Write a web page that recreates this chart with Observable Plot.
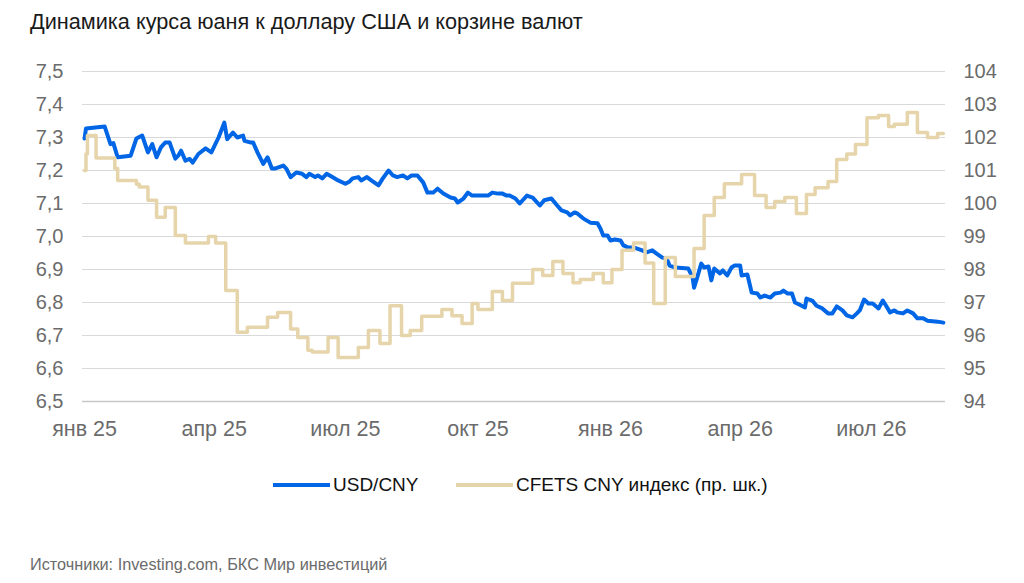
<!DOCTYPE html>
<html>
<head>
<meta charset="utf-8">
<script src="https://cdn.jsdelivr.net/npm/d3@7"></script>
<script src="https://cdn.jsdelivr.net/npm/@observablehq/plot@0.6"></script>
<style>
  html, body { margin: 0; padding: 0; background: #fff; }
  #wrap { position: relative; width: 1024px; height: 583px; font-family: "Liberation Sans", Arial, sans-serif; overflow: hidden; }
  #title { position: absolute; left: 30px; top: 9px; font-size: 21.7px; color: #1a1a1a; white-space: nowrap; }
  #caption { position: absolute; left: 30px; top: 555px; font-size: 16.3px; color: #6b6b6b; white-space: nowrap; }
  .sw { position: absolute; height: 4px; }
  .lt { position: absolute; font-size: 19px; color: #111; white-space: nowrap; }
  #chart { position: absolute; left: 0; top: 0; }
</style>
</head>
<body>
<div id="wrap">
  <div id="chart"></div>
  <div id="title">Динамика курса юаня к доллару США и корзине валют</div>
  <div class="sw" style="left:273px; top:483px; width:57px; background:#0066e6;"></div>
  <div class="lt" style="left:333px; top:474px;">USD/CNY</div>
  <div class="sw" style="left:456px; top:483px; width:57px; background:#e6d5aa;"></div>
  <div class="lt" style="left:516px; top:474px;">CFETS CNY индекс (пр. шк.)</div>
  <div id="caption">Источники: Investing.com, БКС Мир инвестиций</div>
</div>
<script>
const usdDates = ["2025-01-01","2025-01-02","2025-01-15","2025-01-19","2025-01-21","2025-01-24","2025-02-02","2025-02-06","2025-02-10","2025-02-14","2025-02-17","2025-02-20","2025-02-23","2025-02-26","2025-03-01","2025-03-05","2025-03-07","2025-03-09","2025-03-12","2025-03-15","2025-03-17","2025-03-21","2025-03-26","2025-03-30","2025-04-04","2025-04-08","2025-04-10","2025-04-14","2025-04-17","2025-04-21","2025-04-22","2025-04-26","2025-04-28","2025-05-01","2025-05-05","2025-05-08","2025-05-11","2025-05-13","2025-05-19","2025-05-21","2025-05-24","2025-05-28","2025-06-01","2025-06-04","2025-06-06","2025-06-10","2025-06-12","2025-06-15","2025-06-18","2025-06-22","2025-06-26","2025-07-01","2025-07-04","2025-07-06","2025-07-10","2025-07-12","2025-07-16","2025-07-19","2025-07-21","2025-07-24","2025-07-27","2025-07-31","2025-08-03","2025-08-06","2025-08-10","2025-08-13","2025-08-16","2025-08-20","2025-08-24","2025-08-27","2025-08-31","2025-09-03","2025-09-07","2025-09-12","2025-09-15","2025-09-17","2025-09-21","2025-09-24","2025-09-27","2025-09-30","2025-10-08","2025-10-11","2025-10-15","2025-10-18","2025-10-21","2025-10-23","2025-10-27","2025-10-30","2025-11-04","2025-11-08","2025-11-13","2025-11-16","2025-11-21","2025-11-25","2025-11-28","2025-12-02","2025-12-04","2025-12-07","2025-12-09","2025-12-13","2025-12-18","2025-12-23","2025-12-25","2025-12-27","2025-12-30","2026-01-01","2026-01-04","2026-01-08","2026-01-10","2026-01-13","2026-01-17","2026-01-19","2026-01-23","2026-01-26","2026-01-30","2026-02-02","2026-02-06","2026-02-09","2026-02-11","2026-02-15","2026-02-24","2026-02-27","2026-02-28","2026-03-02","2026-03-05","2026-03-07","2026-03-10","2026-03-12","2026-03-14","2026-03-18","2026-03-20","2026-03-23","2026-03-26","2026-03-28","2026-04-01","2026-04-02","2026-04-06","2026-04-09","2026-04-13","2026-04-15","2026-04-18","2026-04-22","2026-04-25","2026-04-29","2026-05-01","2026-05-04","2026-05-07","2026-05-09","2026-05-12","2026-05-16","2026-05-17","2026-05-21","2026-05-24","2026-05-28","2026-06-01","2026-06-04","2026-06-07","2026-06-11","2026-06-14","2026-06-18","2026-06-21","2026-06-23","2026-06-26","2026-06-29","2026-07-02","2026-07-06","2026-07-09","2026-07-12","2026-07-14","2026-07-17","2026-07-19","2026-07-23","2026-07-26","2026-07-30","2026-08-02","2026-08-06","2026-08-09","2026-08-16","2026-08-20"];
const usdValues = [7.297,7.327,7.333,7.28,7.283,7.24,7.245,7.297,7.306,7.255,7.28,7.24,7.27,7.285,7.285,7.236,7.245,7.26,7.23,7.235,7.224,7.25,7.267,7.255,7.30,7.345,7.295,7.315,7.30,7.306,7.29,7.285,7.285,7.255,7.22,7.24,7.206,7.206,7.215,7.206,7.18,7.194,7.19,7.18,7.19,7.18,7.185,7.176,7.19,7.18,7.17,7.16,7.167,7.176,7.18,7.17,7.18,7.17,7.164,7.155,7.176,7.20,7.185,7.18,7.185,7.176,7.185,7.185,7.164,7.133,7.133,7.145,7.13,7.118,7.115,7.103,7.115,7.133,7.124,7.124,7.124,7.133,7.13,7.13,7.124,7.124,7.115,7.10,7.124,7.118,7.094,7.11,7.115,7.094,7.079,7.073,7.064,7.073,7.07,7.055,7.042,7.04,7.024,7.003,7.003,6.988,6.991,6.988,6.973,6.967,6.967,6.964,6.958,6.952,6.958,6.948,6.936,6.933,6.912,6.906,6.903,6.876,6.845,6.873,6.918,6.906,6.909,6.867,6.903,6.888,6.897,6.882,6.906,6.912,6.912,6.882,6.885,6.83,6.827,6.815,6.821,6.815,6.827,6.83,6.836,6.827,6.827,6.80,6.794,6.785,6.812,6.806,6.79,6.782,6.767,6.767,6.788,6.776,6.761,6.755,6.767,6.776,6.809,6.797,6.797,6.782,6.806,6.785,6.77,6.776,6.77,6.767,6.776,6.767,6.752,6.752,6.745,6.742,6.739];

const cfetsDates = ["2025-01-01","2025-01-02","2025-01-03","2025-01-09","2025-01-22","2025-01-24","2025-02-06","2025-02-08","2025-02-14","2025-02-20","2025-02-26","2025-03-05","2025-03-12","2025-03-28","2025-04-02","2025-04-09","2025-04-17","2025-04-24","2025-05-08","2025-05-15","2025-05-24","2025-05-29","2025-06-05","2025-06-08","2025-06-19","2025-06-26","2025-07-10","2025-07-17","2025-07-25","2025-08-01","2025-08-09","2025-08-15","2025-08-23","2025-09-06","2025-09-13","2025-09-20","2025-09-27","2025-10-01","2025-10-11","2025-10-18","2025-10-25","2025-11-08","2025-11-15","2025-11-22","2025-11-29","2025-12-06","2025-12-11","2025-12-20","2025-12-27","2026-01-02","2026-01-09","2026-01-17","2026-01-25","2026-01-31","2026-02-08","2026-02-15","2026-02-28","2026-03-07","2026-03-14","2026-03-21","2026-04-02","2026-04-11","2026-04-19","2026-04-25","2026-05-02","2026-05-10","2026-05-17","2026-05-23","2026-06-01","2026-06-07","2026-06-14","2026-06-20","2026-06-28","2026-07-06","2026-07-13","2026-07-17","2026-07-26","2026-08-02","2026-08-09","2026-08-16","2026-08-20"];
const cfetsValues = [101.0,101.5,102.06,101.38,101.06,100.7,100.58,100.5,100.1,99.58,99.88,99.03,98.8,99.0,98.8,97.36,96.1,96.25,96.55,96.7,96.2,95.94,95.55,95.5,95.94,95.33,95.64,96.15,95.76,96.9,96.0,96.15,96.58,96.79,96.6,96.36,96.97,96.79,97.33,97.06,97.58,98.0,97.82,98.24,97.88,97.6,97.7,97.88,97.6,98.0,98.58,98.8,98.2,96.97,98.36,97.79,98.64,99.64,100.18,100.6,100.88,100.24,99.88,100.06,100.18,99.7,100.27,100.48,100.67,101.33,101.5,101.79,102.6,102.67,102.33,102.4,102.76,102.15,102.0,102.12,102.12];

const leftTicks = [6.5, 6.6, 6.7, 6.8, 6.9, 7.0, 7.1, 7.2, 7.3, 7.4, 7.5];
const rightTicks = [94, 95, 96, 97, 98, 99, 100, 101, 102, 103, 104];
const xTickDates = ["2025-01-01","2025-04-01","2025-07-01","2025-10-01","2026-01-01","2026-04-01","2026-07-01"];
const xTickLabels = ["янв 25","апр 25","июл 25","окт 25","янв 26","апр 26","июл 26"];

const parse = d3.utcParse("%Y-%m-%d");
const usd = usdDates.map((d, i) => ({date: parse(d), value: usdValues[i]}));
const cfets = cfetsDates.map((d, i) => ({date: parse(d), value: cfetsValues[i]}));
const xTicks = xTickDates.map(parse);

// map right-axis values onto the left scale
const r0 = rightTicks[0], r1 = rightTicks[rightTicks.length - 1];
const l0 = leftTicks[0], l1 = leftTicks[leftTicks.length - 1];
const toLeft = v => l0 + (v - r0) * (l1 - l0) / (r1 - r0);

const fmtLeft = d => d.toFixed(1).replace(".", ",");
const fmtRight = d => {
  const i = leftTicks.findIndex(t => Math.abs(t - d) < 1e-9);
  return i >= 0 ? String(rightTicks[i]) : "";
};
const fmtX = d => {
  const i = xTicks.findIndex(t => +t === +d);
  return i >= 0 ? xTickLabels[i] : "";
};

const chart = Plot.plot({
  width: 1024,
  height: 583,
  marginTop: 71,
  marginBottom: 182,
  marginLeft: 82,
  marginRight: 79,
  style: {fontFamily: "'Liberation Sans', Arial, sans-serif", fontSize: "20px", background: "transparent"},
  x: {type: "utc", domain: [new Date(Date.UTC(2024, 11, 30, 14)), new Date(Date.UTC(2026, 7, 21, 12))]},
  y: {domain: [l0, l1]},
  marks: [
    Plot.ruleY(leftTicks.slice(1), {stroke: "#d9d9d9", strokeWidth: 1}),
    Plot.ruleY([l0], {stroke: "#c8c8c8", strokeWidth: 1.5}),
    Plot.axisY({ticks: leftTicks, tickFormat: fmtLeft, tickSize: 0, tickPadding: 19, label: null, fill: "#6b6b6b", fontSize: 20}),
    Plot.axisY({anchor: "right", ticks: leftTicks, tickFormat: fmtRight, tickSize: 0, tickPadding: 18, label: null, fill: "#6b6b6b", fontSize: 20}),
    Plot.axisX({ticks: xTicks, tickFormat: fmtX, tickSize: 0, tickPadding: 19, label: null, fill: "#6b6b6b", fontSize: 21.5}),
    Plot.line(usd, {x: "date", y: "value", stroke: "#0066e6", strokeWidth: 4, strokeLinejoin: "round"}),
    Plot.line(cfets, {x: "date", y: d => toLeft(d.value), stroke: "#e6d5aa", strokeWidth: 3.5, curve: "step-after", strokeLinejoin: "round"})
  ]
});
document.getElementById("chart").appendChild(chart);
</script>
</body>
</html>
